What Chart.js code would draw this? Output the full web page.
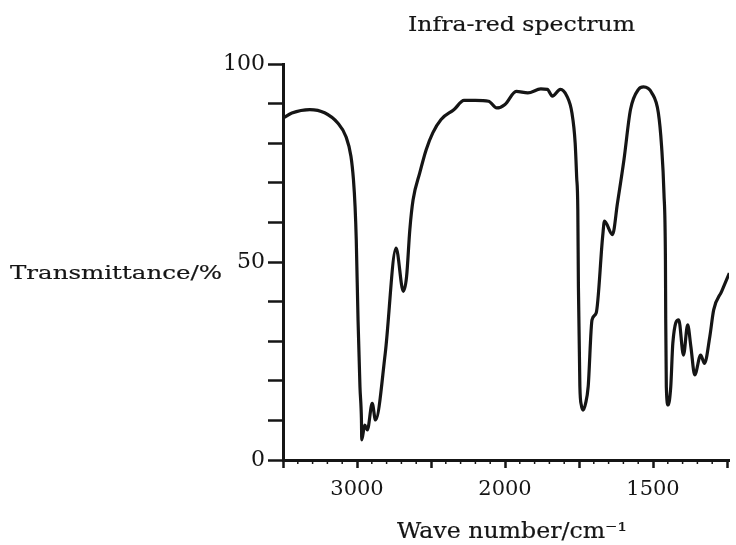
<!DOCTYPE html>
<html><head><meta charset="utf-8">
<script src="https://cdn.jsdelivr.net/npm/chart.js@4.4.1/dist/chart.umd.min.js"></script>
<style>html,body{margin:0;padding:0;background:#fff;} canvas{display:block;}</style>
</head><body>
<canvas id="c" width="736" height="545"></canvas>
<script>
const chartTitle = 'Infra-red spectrum';
const xTitle = 'Wave number/cm\u207B\u00B9';
const yTitle = 'Transmittance/%';

const wavenumbers = [3500,3440,3319,3219,3130,3075,3041,3024,3013,3005,2993,2980,2970,2968,2948,2930,2897,2875,2809,2736,2687,2665,2643,2621,2576,2532,2488,2432,2344,2277,2200,2111,2056,2000,1962,1923,1879,1857,1840,1813,1791,1774,1763,1758,1754,1752,1747,1742,1736,1728,1719,1706,1692,1670,1664,1637,1620,1598,1576,1549,1532,1504,1482,1471,1463,1458,1457,1455,1449,1440,1433,1413,1397,1383,1372,1359,1339,1326,1308,1295,1268,1242];
const transmittance = [86.3,87.6,88.5,87.7,85.1,81.7,76.7,70.8,64.0,55.6,35.4,18.5,10.1,5.1,8.8,7.6,14.3,10.1,27.0,53.5,42.6,46.3,58.2,65.7,72.5,78.4,82.6,86.0,88.5,90.8,90.8,90.6,88.9,89.8,93.1,92.7,93.7,93.6,91.9,93.6,91.9,87.7,80.1,71.6,63.2,43.8,18.5,13.8,12.6,14.2,18.5,35.4,37.1,56.5,60.3,56.9,64.9,75.9,88.5,93.6,94.2,92.7,87.7,79.2,67.4,50.6,35.4,18.5,13.9,18.5,29.5,35.4,26.5,34.1,28.6,21.5,26.5,24.4,31.2,37.9,42.6,47.2];

const xMajorTicks = [3500,3000,2500,2000,1750,1500,1250];
const xLabelledTicks = [3000,2000,1500];
const yLabelledTicks = [0,50,100];
const X_START = 3500, X_BREAK = 2000, X_END = 1243;

// The scale doubles below 2000 cm-1 (as on the original chart paper)
function toPos(w){ return w >= X_BREAK ? X_START - w : (X_START - X_BREAK) + (X_BREAK - w) * 2; }
function fromPos(p){ return p <= (X_START - X_BREAK) ? X_START - p : X_BREAK - (p - (X_START - X_BREAK)) / 2; }

const ink = '#151515';
const serif = "'DejaVu Serif', 'Liberation Serif', serif";
const tickFont = {family: serif, size: 21};

const minorTicksPlugin = {
  id: 'minorTicks',
  afterDraw(chart){
    const xs = chart.scales.x, c = chart.ctx, y0 = chart.chartArea.bottom;
    const list = [];
    for (let w = X_START; w > X_BREAK; w -= 100) list.push(w);
    for (let w = X_BREAK; w >= 1250; w -= 50) list.push(w);
    c.save(); c.strokeStyle = ink; c.lineWidth = 1.5;
    for (const w of list) {
      if (xMajorTicks.includes(w)) continue;
      const px = xs.getPixelForValue(toPos(w));
      c.beginPath(); c.moveTo(px, y0); c.lineTo(px, y0 + 4); c.stroke();
    }
    c.restore();
  }
};

const textPlugin = {
  id: 'texts',
  afterDraw(chart){
    const c = chart.ctx;
    const items = [
      {text: chartTitle, left: 408, baseline: 31, width: 227, size: 20},
      {text: yTitle, left: 10, baseline: 279, width: 212, size: 19},
      {text: xTitle, left: 397, baseline: 538, width: 230, size: 22}
    ];
    for (const it of items) {
      c.save(); c.fillStyle = ink; c.strokeStyle = ink; c.lineWidth = 0.2;
      c.textBaseline = 'alphabetic'; c.textAlign = 'left';
      c.font = it.size + "px " + serif;
      const w = c.measureText(it.text).width;
      c.translate(it.left, it.baseline);
      c.scale(it.width / w, 1);
      c.fillText(it.text, 0, 0);
      c.strokeText(it.text, 0, 0);
      c.restore();
    }
  }
};

new Chart(document.getElementById('c').getContext('2d'), {
  type: 'line',
  data: {
    datasets: [{
      data: wavenumbers.map((w, i) => ({x: toPos(w), y: transmittance[i]})),
      borderColor: ink, borderWidth: 3.2, pointRadius: 0,
      cubicInterpolationMode: 'monotone', fill: false
    }]
  },
  options: {
    responsive: false, animation: false, devicePixelRatio: 1,
    layout: {padding: {top: 64, left: 0, right: 0, bottom: 0}},
    plugins: {legend: {display: false}, tooltip: {enabled: false}, title: {display: false}},
    scales: {
      x: {
        type: 'linear', min: toPos(X_START), max: toPos(X_END),
        afterBuildTicks: s => { s.ticks = xMajorTicks.map(w => ({value: toPos(w)})); },
        afterFit: s => { s.height = 85; },
        grid: {drawOnChartArea: false, drawTicks: true, tickLength: 8, tickWidth: 2.5, tickColor: ink},
        border: {display: true, width: 3, color: ink},
        ticks: {autoSkip: false, maxRotation: 0, padding: 9, color: ink, font: tickFont,
          callback: v => { const w = Math.round(fromPos(v)); return xLabelledTicks.includes(w) ? String(w) : ''; }}
      },
      y: {
        min: 0, max: 100,
        afterFit: s => { s.width = 283; },
        grid: {drawOnChartArea: false, drawTicks: true, tickLength: 15, tickWidth: 2.5, tickColor: ink},
        border: {display: true, width: 3, color: ink},
        ticks: {stepSize: 10, autoSkip: false, padding: 3, color: ink, font: {family: serif, size: 22},
          callback: v => yLabelledTicks.includes(v) ? String(v) : ''}
      }
    }
  },
  plugins: [minorTicksPlugin, textPlugin]
});
</script>
</body></html>
